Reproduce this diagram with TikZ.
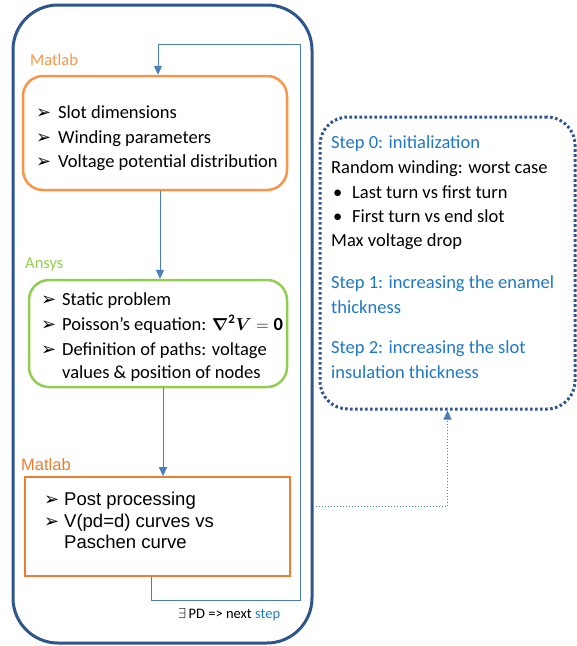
\documentclass[tikz,border=0pt]{standalone}
\usepackage{bm}
\usepackage{fontspec}
\setmainfont{Carlito}
\newfontfamily\arialf{Liberation Sans}
\newfontfamily\symf{DejaVu Sans}
\usetikzlibrary{arrows.meta}
\definecolor{outerblue}{RGB}{46,86,140}
\definecolor{loopblue}{RGB}{74,126,187}
\definecolor{orangeA}{RGB}{247,150,70}
\definecolor{greenA}{RGB}{146,204,80}
\definecolor{orangeB}{RGB}{237,125,49}
\definecolor{stepblue}{RGB}{30,120,200}
\definecolor{dotblue}{RGB}{47,85,151}
\tikzset{
  txt/.style={anchor=base west, inner sep=0pt, font=\fontsize{18.5}{22}\selectfont},
  atxt/.style={anchor=base west, inner sep=0pt, font=\arialf\fontsize{18.5}{22}\selectfont},
  lbl/.style={anchor=base west, inner sep=0pt, font=\fontsize{16.5}{20}\selectfont},
  bul/.style={anchor=base west, inner sep=0pt, font=\symf\fontsize{18}{20}\selectfont},
  boxA/.style={draw=orangeA, line width=2.5pt, rounded corners=20pt, inner sep=0pt},
  boxG/.style={draw=greenA, line width=2.5pt, rounded corners=20pt, inner sep=0pt},
  boxB/.style={draw=orangeB, line width=1.6pt, inner sep=0pt},
  flow/.style={draw=loopblue, line width=1pt, -{Triangle[length=9pt,width=8pt]}},
  fb/.style={draw=loopblue, line width=1pt},
  dotarr/.style={draw=loopblue, line width=1pt, dotted, -{Triangle[length=9pt,width=8pt]}},
}
\begin{document}
\begin{tikzpicture}[x=1pt,y=-1pt]
\useasboundingbox (0,0) rectangle (577,646);
% outer container
\node[draw=outerblue, line width=3pt, rounded corners=45pt, minimum width=299pt, minimum height=638pt, inner sep=0pt] (outer) at (162.5,324) {};
% boxes
\node[boxA, minimum width=264pt, minimum height=114pt] (m1) at (155,133) {};
\node[boxG, minimum width=258pt, minimum height=107pt] (m2) at (158,333.5) {};
\node[boxB, minimum width=265pt, minimum height=99pt] (m3) at (157.5,526.5) {};
% right dotted box
\node[draw=dotblue, line width=3pt, dash pattern=on 2.6pt off 2.4pt, rounded corners=28pt, minimum width=255pt, minimum height=292pt, inner sep=0pt] (rb) at (447.5,263) {};

% labels
\node[lbl, text=orangeA] (l1) at (30,65) {Matlab};
\node[lbl, text=greenA] (l2) at (25,268) {Ansys};
\node[atxt, font=\arialf\fontsize{16.5}{20}\selectfont, text=orangeB] (l3) at (21,470) {Matlab};

% box 1 text
\node[bul] (b11) at (36,118) {➢};
\node[txt] (t11) at (58,118) {Slot dimensions};
\node[bul] (b12) at (36,143) {➢};
\node[txt] (t12) at (58,143) {Winding parameters};
\node[bul] (b13) at (36,167) {➢};
\node[txt] (t13) at (58,167) {Voltage potential distribution};

% box 2 text
\node[bul] (b21) at (41,305) {➢};
\node[txt] (t21) at (62,305) {Static problem};
\node[bul] (b22) at (41,330) {➢};
\node[txt] (t22) at (62,330) {Poisson’s equation: $\bm{\nabla}^{\mathbf{2}}\bm{V}=\mathbf{0}$};
\node[bul] (b23) at (41,355) {➢};
\node[txt] (t23) at (62,355) {Definition of paths: voltage};
\node[txt] (t24) at (62,378) {values \& position of nodes};

% box 3 text
\node[bul] (b31) at (44,505) {➢};
\node[atxt] (t31) at (64,505) {Post processing};
\node[bul] (b32) at (44,527) {➢};
\node[atxt] (t32) at (64,527) {V(pd=d) curves vs};
\node[atxt] (t33) at (64,548) {Paschen curve};

% bottom note
\node[anchor=base west, inner sep=0pt, font=\fontsize{14.5}{17}\selectfont] (note) at (178,618) {$\exists$\,PD => next \textcolor{stepblue}{step}};

% right box text
\node[txt, text=stepblue] (r1) at (331,148) {Step 0: initialization};
\node[txt] (r2) at (331,173) {Random winding: worst case};
\node[txt] (r3b) at (333,198) {•};
\node[txt] (r3) at (352,198) {Last turn vs first turn};
\node[txt] (r4b) at (333,222) {•};
\node[txt] (r4) at (352,222) {First turn vs end slot};
\node[txt] (r5) at (331,246) {Max voltage drop};
\node[txt, text=stepblue] (r6) at (331,288) {Step 1: increasing the enamel};
\node[txt, text=stepblue] (r7) at (331,313) {thickness};
\node[txt, text=stepblue] (r8) at (331,353) {Step 2: increasing the slot};
\node[txt, text=stepblue] (r9) at (331,378) {insulation thickness};

% connectors
\coordinate (lb) at (300,600);
\coordinate (lt) at (300,44);
\coordinate (d0) at (313,506);
\draw[flow] ([xshift=5pt]m1.south) -- ([xshift=2pt]m2.north);
\draw[flow] ([xshift=5pt]m2.south) -- ([xshift=5.5pt]m3.north);
\draw[fb, -{Triangle[length=9pt,width=8pt]}] ([xshift=-6.5pt]m3.south) |- (lb) -- (lt) -| ([xshift=3pt]m1.north);
\draw[dotarr] (d0) -| (rb.south);
\end{tikzpicture}
\end{document}
